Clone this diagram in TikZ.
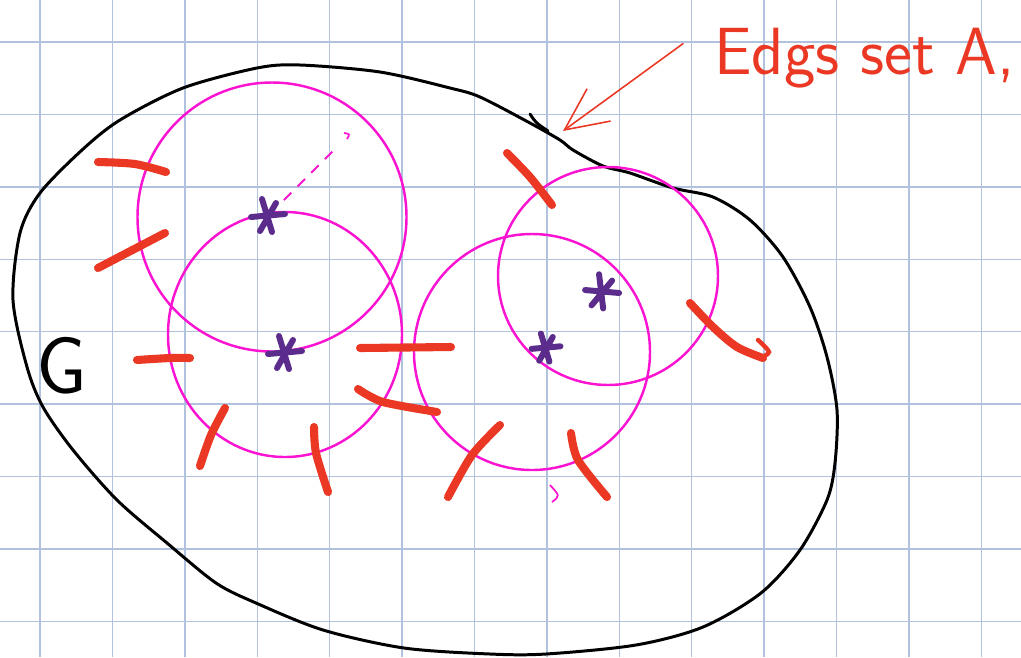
\documentclass[tikz,border=0pt]{standalone}
\usepackage{tikz}
\usetikzlibrary{arrows.meta}

\definecolor{gridblue}{RGB}{176,194,222}
\definecolor{ringpink}{RGB}{250,20,210}
\definecolor{cutred}{RGB}{234,56,36}
\definecolor{vtxpurple}{RGB}{92,44,140}

\begin{document}
\begin{tikzpicture}[x=0.02cm, y=-0.02cm,
  gridline/.style={gridblue, line width=0.8pt},
  outline/.style={black, line width=1.7pt},
  ring/.style={ringpink, line width=1.4pt},
  cut/.style={cutred, line width=4.6pt, line cap=round},
  pen/.style={cutred, line width=0.9pt, line cap=round},
  vtxpen/.style={vtxpurple, line width=3.4pt, line cap=round},
  vtx/.pic={\draw[vtxpen] (-17,1) -- (17,-2) (-6,-17) -- (4,16) (8,-13) -- (-8,15);}]
\useasboundingbox (0,0) rectangle (1021,657);
% squared paper
\draw[gridline] (40,0) -- (40,657);
\draw[gridline] (112.4,0) -- (112.4,657);
\draw[gridline] (184.8,0) -- (184.8,657);
\draw[gridline] (257.2,0) -- (257.2,657);
\draw[gridline] (329.6,0) -- (329.6,657);
\draw[gridline] (402,0) -- (402,657);
\draw[gridline] (474.4,0) -- (474.4,657);
\draw[gridline] (546.8,0) -- (546.8,657);
\draw[gridline] (619.2,0) -- (619.2,657);
\draw[gridline] (691.6,0) -- (691.6,657);
\draw[gridline] (764,0) -- (764,657);
\draw[gridline] (836.4,0) -- (836.4,657);
\draw[gridline] (908.8,0) -- (908.8,657);
\draw[gridline] (981.2,0) -- (981.2,657);
\draw[gridline] (0,42) -- (1021,42);
\draw[gridline] (0,114.4) -- (1021,114.4);
\draw[gridline] (0,186.8) -- (1021,186.8);
\draw[gridline] (0,259.2) -- (1021,259.2);
\draw[gridline] (0,331.6) -- (1021,331.6);
\draw[gridline] (0,404) -- (1021,404);
\draw[gridline] (0,476.4) -- (1021,476.4);
\draw[gridline] (0,548.8) -- (1021,548.8);
\draw[gridline] (0,621.2) -- (1021,621.2);

% the graph G
\draw[outline] plot[smooth cycle] coordinates {(120,120) (183,88) (257,68) (300,65)
  (380,72) (450,88) (480,97) (530,123) (560,140) (573,150) (603,166) (630,173)
  (673,188) (713,197) (750,220) (783,257) (810,307) (827,357) (837,410) (835,463)
  (827,500) (800,550) (761,593) (703,627) (636,645) (546,654) (490,654) (404,648)
  (323,630) (256,603) (216,583) (167,543) (117,500) (73,450) (43,407) (27,367)
  (13,300) (20,233) (40,193) (82,150)};
\draw[outline, line cap=round] (530,114) .. controls (536,123) .. (548,131);
\node[font=\sffamily\fontsize{46}{50}\selectfont] (G) at (62,366) {G};

% balls
\draw[ring] (272,217) circle[x radius=134.5, y radius=134.5];
\draw[ring] (285,334.5) circle[x radius=117, y radius=122.5];
\draw[ring] (532,352) circle[x radius=118, y radius=118];
\draw[ring] (608,276) circle[x radius=110, y radius=109];

% centres
\coordinate (s1) at (268,216);
\coordinate (s2) at (285,353);
\coordinate (s3) at (546,348);
\coordinate (s4) at (602,292);
\pic at (s1) {vtx};
\pic at (s2) {vtx};
\pic[scale=0.85] at (s3) {vtx};
\pic[rotate=-10] at (s4) {vtx};

% radius
\coordinate (rend) at (338,146);
\draw[ring, line width=1.1pt, dash pattern=on 6pt off 5pt, shorten <=0.45cm] (s1) -- (rend);
\draw[ring, line width=1pt] (344,133) .. controls (350,134) .. (347,139);
\draw[ring, line width=1pt] (550,485) .. controls (560,496) .. (552,502);

% cut edges
\draw[cut] plot[smooth] coordinates {(98,162) (135,164) (166,172)};
\draw[cut] (98,268) -- (165,233);
\draw[cut] plot[smooth] coordinates {(137,360) (170,358) (190,358)};
\draw[cut] plot[smooth] coordinates {(225,408) (211,435) (200,466)};
\draw[cut] plot[smooth] coordinates {(314,427) (316,453) (328,492)};
\draw[cut] (360,348) -- (451,347);
\draw[cut] plot[smooth] coordinates {(358,389) (383,402) (437,412)};
\draw[cut] plot[smooth] coordinates {(500,425) (472,455) (448,497)};
\draw[cut] plot[smooth] coordinates {(571,433) (578,460) (607,497)};
\draw[cut] plot[smooth] coordinates {(507,153) (530,177) (552,205)};
\draw[cut] plot[smooth] coordinates {(690,303) (713,327) (737,347) (763,358)};
\draw[cut, line width=2.5pt] plot[smooth] coordinates {(760,358) (769,352) (758,340)};

% label
\node[text=cutred, anchor=base west, inner sep=0pt,
  font=\sffamily\fontsize{38}{44}\selectfont] (lbl) at (714,74) {Edgs set A,};
\coordinate (tip) at (563,131);
\draw[pen, -{Straight Barb[length=0.85cm, width=0.8cm]}] ([shift={(-31,-14)}]lbl.west) -- (tip);
\end{tikzpicture}
\end{document}
